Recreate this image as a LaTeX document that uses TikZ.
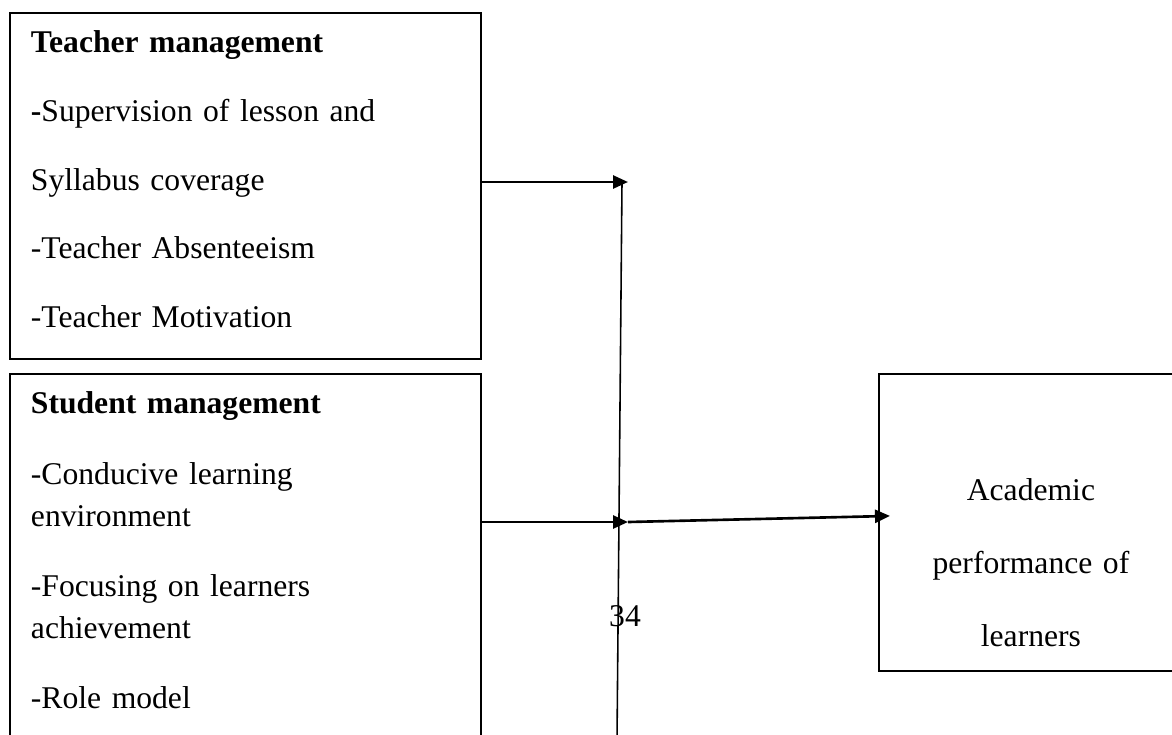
\documentclass[tikz,border=0pt]{standalone}
\usepackage{fontspec}
\setmainfont{Liberation Serif}
\usetikzlibrary{arrows.meta,calc}

\begin{document}
\begin{tikzpicture}[x=0.02cm, y=-0.02cm,
  box/.style = {draw, line width=1.1pt, anchor=north west, inner sep=0pt, font=\fontsize{18}{24}\selectfont},
  factor/.style = {box, text width=8.58cm, inner xsep=0.42cm, align=left, text height=0.8cm},
  link/.style = {line width=1.5pt, -{Triangle[length=0.3cm,width=0.26cm]}}]
  \useasboundingbox (0,0) rectangle (1172,734);
  \clip (0,0) rectangle (1172,734);
  \node[factor, text depth=6.12cm] (teacher) at (9,12) {\textbf{Teacher management}\\[0.53cm]\textbf{-}Supervision of lesson and\\[0.53cm]Syllabus coverage\\[0.53cm]-Teacher Absenteeism\\[0.53cm]-Teacher Motivation};
  \node[factor, text depth=8cm] (student) at (9,373) {\textbf{Student management}\\[0.56cm]-Conducive learning\\environment\\[0.56cm]-Focusing on learners\\achievement\\[0.56cm]-Role model};
  \node[box, text width=6.08cm, align=center, text height=2.54cm, text depth=3.4cm] (result) at (878,373) {Academic\\[0.61cm]performance of\\[0.61cm]learners};
  \node[font=\fontsize{18}{24}\selectfont, inner sep=0pt] (page) at (625,616) {34};

  \coordinate (top) at (622,182);
  \coordinate (bottom) at (617,740);
  \coordinate (hit1) at (628,182);
  \coordinate (hit2) at (628,522);

  \draw[line width=0.9pt] (top) -- (bottom);
  \draw[link] (teacher.east |- hit1) -- (hit1);
  \draw[link] (student.east |- hit2) -- (hit2);
  \draw[link] (hit2) -- ([xshift=0.24cm,yshift=0.13cm]result.west);
\end{tikzpicture}
\end{document}
